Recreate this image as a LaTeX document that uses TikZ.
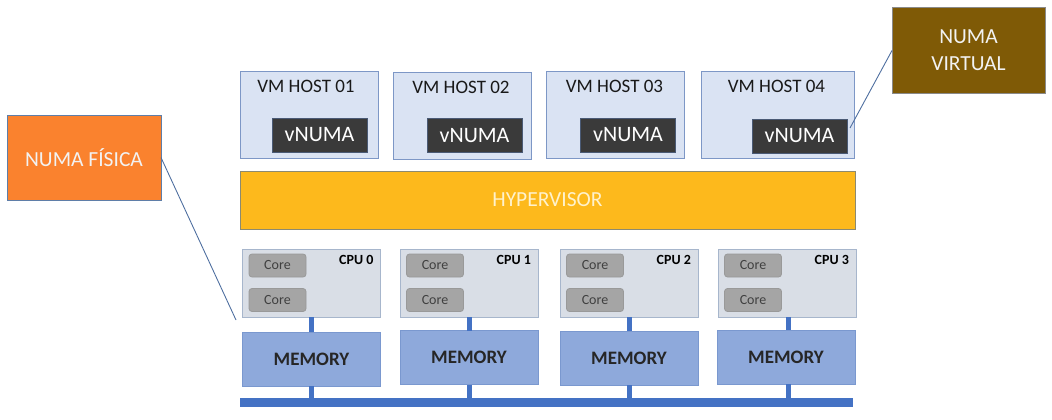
\documentclass[tikz,border=0pt]{standalone}
\usepackage{fontspec}
\setmainfont{Carlito}
\definecolor{hostfill}{HTML}{DAE3F3}
\definecolor{hostline}{HTML}{7D97C6}
\definecolor{vnfill}{HTML}{3A3A3A}
\definecolor{vnline}{HTML}{4A5A75}
\definecolor{hypfill}{HTML}{FDB91C}
\definecolor{hypline}{HTML}{8C8A70}
\definecolor{hyptext}{HTML}{FFF2CC}
\definecolor{cpufill}{HTML}{D9DEE6}
\definecolor{cpuline}{HTML}{A7B6CC}
\definecolor{corefill}{HTML}{A5A5A5}
\definecolor{coreline}{HTML}{999999}
\definecolor{memfill}{HTML}{8EA9DB}
\definecolor{memline}{HTML}{7A98CF}
\definecolor{busblue}{HTML}{4472C4}
\definecolor{fisfill}{HTML}{FA822E}
\definecolor{fisline}{HTML}{5F7EA8}
\definecolor{virfill}{HTML}{7F5A06}
\definecolor{virline}{HTML}{8A8A8A}
\definecolor{pointer}{HTML}{4F6FA0}
\begin{document}
\begin{tikzpicture}[x=1pt,y=-1pt,
  every node/.style={inner sep=0pt, outer sep=0pt},
  host/.style={draw=hostline, fill=hostfill, line width=1pt, minimum width=138pt, minimum height=86pt},
  hosttitle/.style={font=\fontsize{19}{21}\selectfont, text=black!90},
  vnuma/.style={draw=vnline, fill=vnfill, line width=1pt, minimum width=95pt, minimum height=34pt,
    text=white, font=\fontsize{22}{24}\selectfont},
  cpu/.style={draw=cpuline, fill=cpufill, line width=1pt, minimum width=138pt, minimum height=68pt},
  cpulabel/.style={font=\bfseries\fontsize{14}{16}\selectfont, anchor=north east},
  core/.style={draw=coreline, fill=corefill, line width=0.8pt, rounded corners=3pt, minimum width=57pt,
    minimum height=23pt, text=black!75, font=\fontsize{14}{16}\selectfont},
  memory/.style={draw=memline, fill=memfill, line width=1pt, minimum width=138pt, minimum height=54pt,
    font=\bfseries\fontsize{19}{21}\selectfont, text=black!85},
  link/.style={draw=busblue, line width=5pt},
  callout/.style={line width=1pt, minimum width=154pt, minimum height=85pt, text=white!95!black,
    font=\fontsize{21.5}{25}\selectfont, align=center},
  pointer/.style={draw=pointer, line width=0.9pt}]
\useasboundingbox (0,0) rectangle (1052,420);
% virtual machines
\node [host] (host1) at (309,115) {};
\node [host] (host2) at (462,116) {};
\node [host] (host3) at (615.5,115) {};
\node [host, minimum width=153pt] (host4) at (777.5,115) {};
\node [hosttitle] (title1) at ([shift={(-3pt,-14pt)}]host1.north) {VM HOST 01};
\node [hosttitle] (title2) at ([shift={(-1pt,-14pt)}]host2.north) {VM HOST 02};
\node [hosttitle] (title3) at ([shift={(-1pt,-14pt)}]host3.north) {VM HOST 03};
\node [hosttitle] (title4) at ([shift={(-1pt,-14pt)}]host4.north) {VM HOST 04};
\node [vnuma] (vnuma1) at (319.5,135) {vNUMA};
\node [vnuma] (vnuma2) at (474.5,135.5) {vNUMA};
\node [vnuma] (vnuma3) at (628,135) {vNUMA};
\node [vnuma] (vnuma4) at (799.5,136) {vNUMA};
% hypervisor
\node [draw=hypline, fill=hypfill, line width=1pt, minimum width=615pt, minimum height=58pt,
  text=hyptext, font=\fontsize{21.5}{24}\selectfont] (hyper) at (547.5,200) {HYPERVISOR};
% processors
\node [cpu] (cpu0) at (311.5,283) {};
\node [cpu] (cpu1) at (469,283) {};
\node [cpu] (cpu2) at (629,283) {};
\node [cpu] (cpu3) at (787,283) {};
\node [cpulabel] (cpulab0) at ([shift={(-7pt,-6.5pt)}]cpu0.north east) {CPU 0};
\node [cpulabel] (cpulab1) at ([shift={(-7pt,-6.5pt)}]cpu1.north east) {CPU 1};
\node [cpulabel] (cpulab2) at ([shift={(-7pt,-6.5pt)}]cpu2.north east) {CPU 2};
\node [cpulabel] (cpulab3) at ([shift={(-7pt,-6.5pt)}]cpu3.north east) {CPU 3};
\node [core] (core0a) at ([shift={(-34pt,17.5pt)}]cpu0.center) {Core};
\node [core] (core0b) at ([shift={(-34pt,-17pt)}]cpu0.center) {Core};
\node [core] (core1a) at ([shift={(-34pt,17.5pt)}]cpu1.center) {Core};
\node [core] (core1b) at ([shift={(-34pt,-17pt)}]cpu1.center) {Core};
\node [core] (core2a) at ([shift={(-34pt,17.5pt)}]cpu2.center) {Core};
\node [core] (core2b) at ([shift={(-34pt,-17pt)}]cpu2.center) {Core};
\node [core] (core3a) at ([shift={(-34pt,17.5pt)}]cpu3.center) {Core};
\node [core] (core3b) at ([shift={(-34pt,-17pt)}]cpu3.center) {Core};
% memory and bus
\node [memory] (mem0) at (311.5,359) {MEMORY};
\node [memory] (mem1) at (469,357.5) {MEMORY};
\node [memory] (mem2) at (629,358) {MEMORY};
\node [memory] (mem3) at (786,357) {MEMORY};
\node [fill=busblue, minimum width=613pt, minimum height=9pt] (bus) at (546.5,402.5) {};
\draw [link] (cpu0.south) -- (cpu0.south |- mem0.north);
\draw [link] (cpu1.south) -- (cpu1.south |- mem1.north);
\draw [link] (cpu2.south) -- (cpu2.south |- mem2.north);
\draw [link] ([xshift=1pt]cpu3.south) -- ([xshift=1pt]cpu3.south |- mem3.north);
\draw [link] (cpu0.south |- mem0.south) -- (cpu0.south |- bus.north);
\draw [link] (cpu1.south |- mem1.south) -- (cpu1.south |- bus.north);
\draw [link] (cpu2.south |- mem2.south) -- (cpu2.south |- bus.north);
\draw [link] ([xshift=1pt]cpu3.south |- mem3.south) -- ([xshift=1pt]cpu3.south |- bus.north);
% callouts
\node [callout, draw=fisline, fill=fisfill] (fisica) at (84,157.5) {NUMA FÍSICA};
\node [callout, draw=virline, fill=virfill, minimum width=153pt] (virtual) at (968.5,50.5) {NUMA\\[2pt]VIRTUAL};
\coordinate (fisend) at (236,320);
\draw [pointer] (fisica.east) -- (fisend);
\draw [pointer] (virtual.west) -- ([shift={(3pt,8pt)}]vnuma4.east);
\end{tikzpicture}
\end{document}
